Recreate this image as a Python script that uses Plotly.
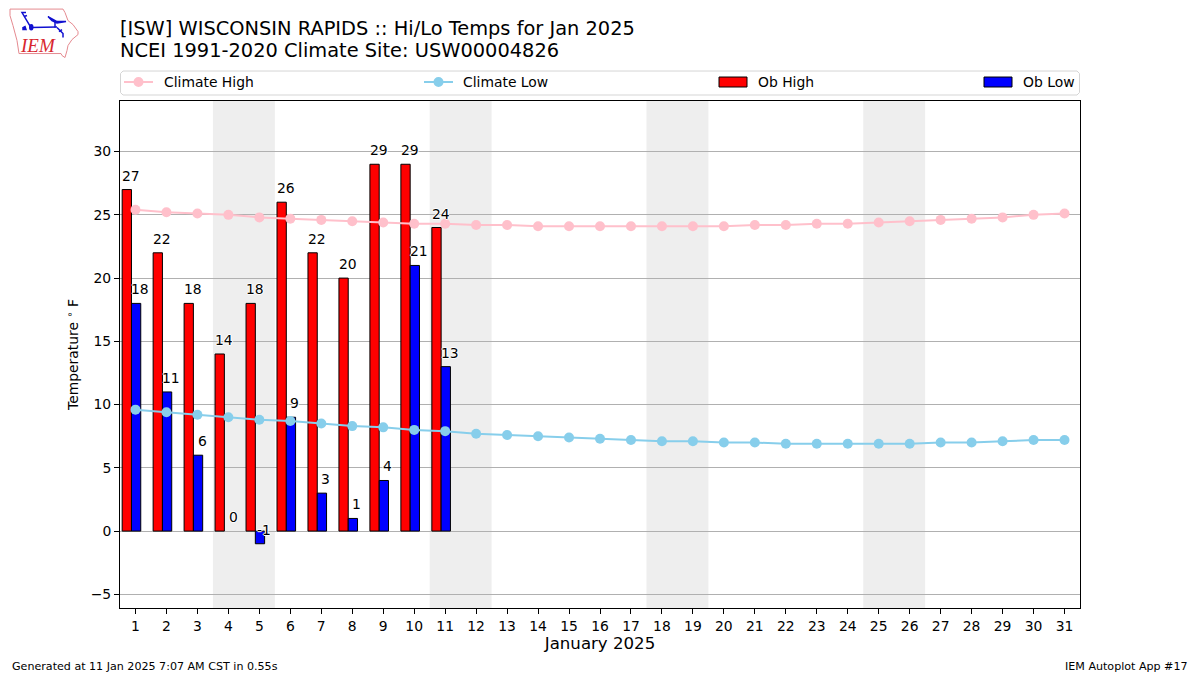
import plotly.graph_objects as go

days = list(range(1, 32))
climate_high = [25.4, 25.2, 25.1, 25.0, 24.8, 24.7, 24.6, 24.5, 24.4, 24.3, 24.3, 24.2, 24.2, 24.1, 24.1, 24.1,
                24.1, 24.1, 24.1, 24.1, 24.2, 24.2, 24.3, 24.3, 24.4, 24.5, 24.6, 24.7, 24.8, 25.0, 25.1]
climate_low = [9.6, 9.4, 9.2, 9.0, 8.8, 8.7, 8.5, 8.3, 8.2, 8.0, 7.9, 7.7, 7.6, 7.5, 7.4, 7.3,
               7.2, 7.1, 7.1, 7.0, 7.0, 6.9, 6.9, 6.9, 6.9, 6.9, 7.0, 7.0, 7.1, 7.2, 7.2]
ob_days = list(range(1, 12))
ob_high = [27, 22, 18, 14, 18, 26, 22, 20, 29, 29, 24]
ob_low = [18, 11, 6, 0, -1, 9, 3, 1, 4, 21, 13]
saturdays = [4, 11, 18, 25]

# the page body has an 8px margin, so the figure is shrunk and shifted to land on the 1200x675 picture
PAGE = 8
W, H = 1200 - PAGE, 675 - PAGE
L, R, T, B = 120, 1080, 100.5, 608
FONT = "DejaVu Sans"
HALO = "1px 0 0 #fff, -1px 0 0 #fff, 0 1px 0 #fff, 0 -1px 0 #fff"
TEXT_PAD = 2  # annotations sit this far inside their anchor


# picture pixels -> paper coordinates of the plot area
def px(x):
    return (x - L) / (R - L)


def py(y):
    return (B - y) / (B - T)


def pixel_path(points, close=True):
    path = "M " + " L ".join(f"{px(x):.5f},{py(y):.5f}" for x, y in points)
    return path + (" Z" if close else "")


def paper_text(x, y, text, size, anchor="left", family=FONT, color="black"):
    shift = {"left": -TEXT_PAD, "right": TEXT_PAD, "center": 0}[anchor]
    return dict(xref="paper", yref="paper", x=px(x + shift), y=py(y), text=text, showarrow=False, xanchor=anchor, yanchor="middle",
                font=dict(family=family, size=size, color=color))


def edge_widths(values):
    return [0 if v == 0 else 1 for v in values]


fig = go.Figure()
fig.add_trace(go.Bar(x=ob_days, y=ob_high, offset=-0.43, width=0.3, marker=dict(color="red", line=dict(color="black", width=edge_widths(ob_high)))))
fig.add_trace(go.Bar(x=ob_days, y=ob_low, offset=-0.13, width=0.3, marker=dict(color="blue", line=dict(color="black", width=edge_widths(ob_low)))))
fig.add_trace(go.Scatter(x=days, y=climate_high, mode="lines+markers", line=dict(color="pink", width=2), marker=dict(color="pink", size=10)))
fig.add_trace(go.Scatter(x=days, y=climate_low, mode="lines+markers", line=dict(color="skyblue", width=2), marker=dict(color="skyblue", size=10)))

shapes = []
for sat in saturdays:
    shapes.append(dict(type="rect", xref="x", yref="paper", x0=sat - 0.5, x1=sat + 1.5, y0=0, y1=1,
                       fillcolor="#eeeeee", line_width=0, layer="below"))

annotations = []
for d, hi, lo in zip(ob_days, ob_high, ob_low):
    for xpos, val in ((d - 0.15, hi), (d + 0.15, lo)):
        annotations.append(dict(x=xpos, y=val, text=str(val), showarrow=False, yshift=14, xanchor="center", yanchor="middle",
                                font=dict(family=FONT, size=13.9, color="black", shadow=HALO)))

# legend drawn by hand, matplotlib expands its columns unevenly
shapes.append(dict(type="path", xref="paper", yref="paper", layer="above", line=dict(color="#d5d5d5", width=1), fillcolor="white",
                   path=pixel_path([(123, 70.5), (1077, 70.5), (1079.5, 73), (1079.5, 92), (1077, 94.5), (123, 94.5), (120.5, 92), (120.5, 73)])))
for x0, color in ((124, "pink"), (424, "skyblue")):
    shapes.append(dict(type="line", xref="paper", yref="paper", x0=px(x0), x1=px(x0 + 29), y0=py(81.5), y1=py(81.5), line=dict(color=color, width=2)))
    shapes.append(dict(type="circle", xref="paper", yref="paper", x0=px(x0 + 9.5), x1=px(x0 + 19.5), y0=py(86.5), y1=py(76.5), fillcolor=color, line_width=0))
for x0, color in ((719, "red"), (984, "blue")):
    shapes.append(dict(type="rect", xref="paper", yref="paper", x0=px(x0), x1=px(x0 + 28), y0=py(86.5), y1=py(76.5), fillcolor=color, line=dict(color="black", width=1)))
for x0, label in ((164, "Climate High"), (463, "Climate Low"), (758, "Ob High"), (1023, "Ob Low")):
    annotations.append(paper_text(x0, 81.5, label, 13.9))

# titles and footers
annotations.append(paper_text(120, 28, "[ISW] WISCONSIN RAPIDS :: Hi/Lo Temps for Jan 2025", 19.4))
annotations.append(paper_text(120, 50, "NCEI 1991-2020 Climate Site: USW00004826", 19.4))
annotations.append(paper_text(12, 667, "Generated at 11 Jan 2025 7:07 AM CST in 0.55s", 11.1))
annotations.append(paper_text(1188, 667, "IEM Autoplot App #17", 11.1, anchor="right"))

# logo
iowa = [(10, 8.5), (63, 8.5), (65, 12), (68, 20), (73, 24), (78, 31), (78, 34), (72, 39), (68, 45), (67, 50), (65, 57), (62, 55), (61, 53), (19, 53), (17, 40), (13, 25), (10, 15)]
shapes.append(dict(type="path", xref="paper", yref="paper", path=pixel_path(iowa), line=dict(color="#e58a90", width=1), fillcolor="white"))
blue = "#1010d0"
for pts, closed in (
    ([(31, 27), (57, 26.5)], False),
    ([(48, 16), (57, 21), (66, 21), (57, 22.5), (52, 20)], True),
    ([(55, 21), (55, 27)], False),
    ([(57, 27), (63, 33), (63, 37)], False),
    ([(59, 31), (62, 29)], False),
    ([(31, 27), (22, 12), (26, 12)], False),
    ([(24, 16), (27, 15)], False),
    ([(23, 27), (25, 26), (26, 29), (23, 29)], True),
):
    shapes.append(dict(type="path", xref="paper", yref="paper", path=pixel_path(pts, close=closed), line=dict(color=blue, width=1.5),
                       fillcolor=blue if closed else "rgba(0,0,0,0)"))
shapes.append(dict(type="circle", xref="paper", yref="paper", x0=px(29), x1=px(33.5), y0=py(30), y1=py(23.5), fillcolor=blue, line_width=0))
annotations.append(paper_text(37.5, 45, "<i>IEM</i>", 19, anchor="center", family="Liberation Serif", color="#d8262e"))

fig.update_layout(
    width=W, height=H, margin=dict(l=L - PAGE, r=W - (R - PAGE), t=T - PAGE, b=H - (B - PAGE)),
    plot_bgcolor="white", paper_bgcolor="white", showlegend=False,
    barmode="overlay", font=dict(family=FONT, size=13.9, color="black"),
    shapes=shapes, annotations=annotations,
)
fig.update_xaxes(range=[0.5, 31.5], tickmode="array", tickvals=days, ticks="outside", ticklen=5, tickwidth=1, tickcolor="black",
                 showgrid=False, zeroline=False, showline=True, linecolor="black", linewidth=1, mirror=True,
                 title=dict(text="January 2025", font=dict(family=FONT, size=16.6), standoff=4))
fig.update_yaxes(range=[-6.08, 34.0], tickmode="array", tickvals=[-5, 0, 5, 10, 15, 20, 25, 30], ticks="outside", ticklen=5, tickwidth=1, tickcolor="black",
                 showgrid=True, gridcolor="#b0b0b0", gridwidth=1, zeroline=False, showline=True, linecolor="black", linewidth=1, mirror=True,
                 tickformat="d", title=dict(text="Temperature <sup>∘</sup> F", font=dict(family=FONT, size=13.9), standoff=8))

fig.write_html("out.html")
